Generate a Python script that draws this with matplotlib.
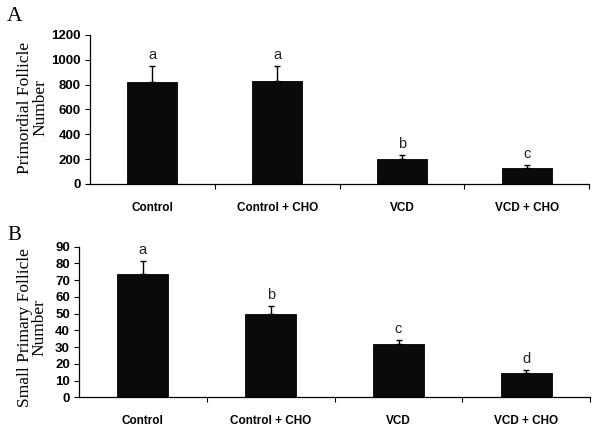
"""Primordial and small primary follicle counts by treatment group."""

import matplotlib
matplotlib.use("Agg")
import matplotlib.pyplot as plt

groups = ["Control", "Control + CHO", "VCD", "VCD + CHO"]

primordial = [821, 832, 201, 131]
primordial_err = [130, 118, 35, 19]
primordial_sig = ["a", "a", "b", "c"]

small_primary = [73.5, 50.0, 31.7, 14.7]
small_primary_err = [7.8, 4.6, 2.5, 1.6]
small_primary_sig = ["a", "b", "c", "d"]


def panel(ax, values, errs, sig, ylim, yticks, ylabel, label_xy):
    x = list(range(len(groups)))
    ax.bar(x, values, width=0.4, color="#0a0a0a", edgecolor="#000000", linewidth=0.6, zorder=2)
    ax.errorbar(x, values, yerr=[[0] * len(errs), errs], fmt="none", ecolor="#000000",
                elinewidth=1.0, capsize=2.5, capthick=1.0, zorder=3)
    for xi, v, e, s in zip(x, values, errs, sig):
        ax.annotate(s, (xi, v + e), xytext=(0, 3), textcoords="offset points",
                    ha="center", va="bottom", fontsize=10.5, family="Liberation Sans", color="#222222")
    ax.set_xlim(-0.5, len(groups) - 0.5)
    ax.set_ylim(*ylim)
    ax.set_yticks(yticks)
    ax.set_xticks(x)
    ax.set_xticklabels(groups, fontsize=8.5, fontweight="bold", family="Liberation Sans")
    ax.set_xticks([i + 0.5 for i in x], minor=True)
    ax.tick_params(axis="x", which="major", length=0, pad=13)
    ax.tick_params(axis="x", which="minor", length=3.5, width=0.8, direction="out")
    ax.tick_params(axis="y", length=3.5, width=0.8, direction="out", pad=3)
    for lab in ax.get_yticklabels():
        lab.set_fontsize(9.5)
        lab.set_fontweight("bold")
        lab.set_family("Liberation Sans")
    for spine in ("top", "right"):
        ax.spines[spine].set_visible(False)
    for spine in ("left", "bottom"):
        ax.spines[spine].set_linewidth(0.9)
    ax.set_ylabel(ylabel, fontsize=12.5, family="Liberation Serif", linespacing=0.9)
    ax.yaxis.set_label_coords(*label_xy)


fig = plt.figure(figsize=(6, 4.37), dpi=100, facecolor="white")

ax_a = fig.add_axes([0.150, 0.579, 0.832, 0.341])
panel(ax_a, primordial, primordial_err, primordial_sig, (0, 1200),
      list(range(0, 1201, 200)), "Primordial Follicle\nNumber", (-0.084, 0.51))

ax_b = fig.add_axes([0.1317, 0.0908, 0.852, 0.3447])
panel(ax_b, small_primary, small_primary_err, small_primary_sig, (0, 90),
      list(range(0, 91, 10)), "Small Primary Follicle\nNumber", (-0.061, 0.46))

fig.text(0.012, 0.962, "A", fontsize=15.5, family="Liberation Serif", va="center", ha="left")
fig.text(0.013, 0.46, "B", fontsize=15, family="Liberation Serif", va="center", ha="left")

fig.savefig("out.png", dpi=100, facecolor="white")
